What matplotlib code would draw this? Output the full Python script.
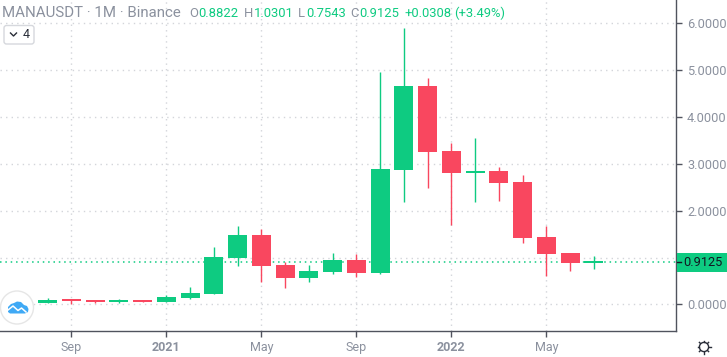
import matplotlib
matplotlib.use("Agg")
import matplotlib.pyplot as plt
from matplotlib.patches import Circle, FancyBboxPatch, Polygon, Rectangle

plt.rcParams['font.family'] = ['Roboto', 'DejaVu Sans']

opens  = [0.03, 0.09, 0.07, 0.05, 0.09, 0.05, 0.135, 0.22, 0.99, 1.48, 0.84, 0.56,
          0.69, 0.95, 0.67, 2.87, 4.66, 3.27, 2.81, 2.85, 2.61, 1.44, 1.10, 0.8822]
highs  = [0.135, 0.105, 0.09, 0.11, 0.09, 0.20, 0.37, 1.22, 1.67, 1.61, 0.90, 0.84,
          1.10, 1.07, 4.96, 5.90, 4.83, 3.44, 3.55, 2.93, 2.76, 1.67, 1.10, 1.0301]
lows   = [0.03, 0.01, 0.02, 0.03, 0.05, 0.05, 0.11, 0.22, 0.82, 0.48, 0.35, 0.48,
          0.65, 0.58, 0.65, 2.18, 2.48, 1.69, 2.18, 2.20, 1.31, 0.60, 0.71, 0.7543]
closes = [0.09, 0.07, 0.05, 0.09, 0.05, 0.155, 0.24, 1.01, 1.48, 0.82, 0.56, 0.71,
          0.95, 0.67, 2.89, 4.66, 3.25, 2.81, 2.85, 2.59, 1.42, 1.07, 0.88, 0.9125]
month_ticks = [1, 5, 9, 13, 17, 21]
month_labels = ['Sep', '2021', 'May', 'Sep', '2022', 'May']
bold_months = ['2021', '2022']
price_ticks = [0, 1, 2, 3, 4, 5, 6]
hidden_price_labels = [1]
last_price = 0.9125

GREEN = '#0ecb81'
RED = '#f9475f'
TEXT = '#8b919e'
AXIS = '#50535e'
GRID = '#d3d5da'

W, H = 727, 357
fig = plt.figure(figsize=(W / 100, H / 100), dpi=100, facecolor='white')
ax = fig.add_axes([0, 26 / H, 676 / W, 331 / H])
ax.set_xlim(-2, 26.46)
ax.set_ylim(-0.568, 6.498)

ax.grid(True, color=GRID, linestyle=(0, (1, 3)), linewidth=1.0, zorder=0)
ax.set_axisbelow(True)
ax.axhline(last_price, color=GREEN, linestyle=(0, (1, 2.5)), linewidth=1.1, zorder=1)

for i, (o, h, l, c) in enumerate(zip(opens, highs, lows, closes)):
    col = GREEN if c >= o else RED
    ax.vlines(i, l, h, color=col, linewidth=1.0, zorder=2)
    ax.bar(i, max(abs(c - o), 0.045), bottom=min(o, c), width=0.8, color=col, linewidth=0, zorder=3)

ax.yaxis.tick_right()
ax.set_xticks(month_ticks)
ax.set_xticklabels(month_labels, fontsize=9, color=TEXT)
for lab in ax.get_xticklabels():
    if lab.get_text() in bold_months:
        lab.set_fontweight('bold')
ax.set_yticks(price_ticks)
ax.set_yticklabels(['' if p in hidden_price_labels else f'{p:.4f}' for p in price_ticks],
                   fontsize=9.2, color=TEXT)
ax.tick_params(axis='x', length=4, width=1, color=AXIS, pad=3.5)
ax.tick_params(axis='y', length=4, width=1, color=AXIS, pad=4)
for s in ('top', 'left'):
    ax.spines[s].set_visible(False)
for s in ('right', 'bottom'):
    ax.spines[s].set_color(AXIS)
    ax.spines[s].set_linewidth(1.0)

# overlay in pixel coordinates for the page furniture
ov = fig.add_axes([0, 0, 1, 1], facecolor='none')
ov.set_xlim(0, W)
ov.set_ylim(H, 0)
ov.axis('off')

ov.text(2.5, 16.8, 'MANAUSDT · 1M · Binance', fontsize=10.8, color=TEXT, va='baseline')
pieces = [(189, 'O', TEXT), (198, '0.8822', GREEN), (244, 'H', TEXT), (253.5, '1.0301', GREEN),
          (298, 'L', TEXT), (306, '0.7543', GREEN), (350, 'C', TEXT), (359, '0.9125', GREEN),
          (404, '+0.0308', GREEN), (454, '(+3.49%)', GREEN)]
for x, s, c in pieces:
    ov.text(x, 16.8, s, fontsize=9.4, color=c, va='baseline')

ov.add_patch(FancyBboxPatch((4, 25.5), 30, 18.5, boxstyle='round,pad=0,rounding_size=2.5',
                            fc='white', ec='#d6d8dd', lw=1))
ov.plot([10.5, 13.5, 16.5], [33, 36, 33], color='#2a2e39', lw=1)
ov.text(26.5, 35, '4', fontsize=9, color='#2a2e39', ha='center', va='center')

# price tag
ov.add_patch(Rectangle((676.5, 253), 50.5, 18.7, color=GREEN, lw=0))
ov.plot([676.5, 680.5], [261.6, 261.6], color='#131722', lw=1)
ov.text(702.5, 262, '0.9125', fontsize=9.2, color='#131722', ha='center', va='center')

# logo badge
ov.add_patch(Circle((17, 307.5), 16.5, fc='white', ec='#e6e6e6', lw=1))
ov.add_patch(Polygon([(8, 312), (8, 307), (11, 304), (14, 303), (17, 301.5), (21, 302), (24, 305),
                      (27, 306), (28.5, 309), (28, 312), (25, 313.5), (10, 313.5)],
                     closed=True, fc='#3fa9f5', ec='none'))
ov.plot([8, 13, 18, 21.5, 26], [310, 306, 310.5, 308, 312], color='white', lw=1.1)

# settings icon
ov.add_patch(Circle((704, 347), 4.6, fc='white', ec='#2a2e39', lw=1))
for dx, dy in [(0, -6.5), (0, 6.5), (-6.5, 0), (6.5, 0), (-4.6, -4.6), (4.6, -4.6), (-4.6, 4.6), (4.6, 4.6)]:
    ov.plot([704 + dx * 0.75, 704 + dx], [347 + dy * 0.75, 347 + dy], color='#2a2e39', lw=1)

fig.savefig('out.png', dpi=100)
